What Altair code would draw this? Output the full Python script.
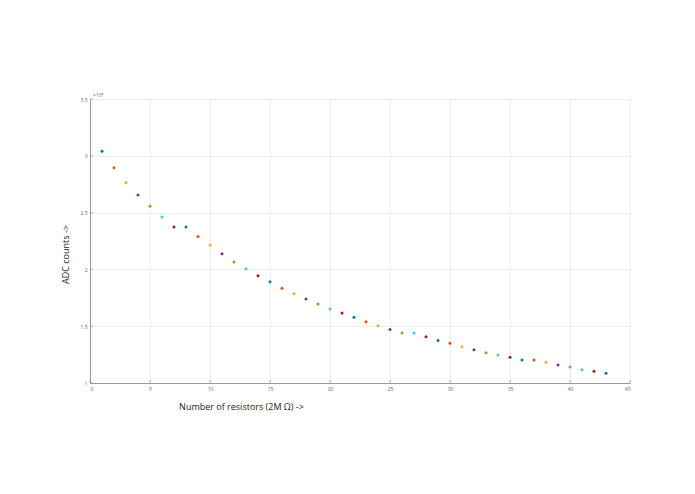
import altair as alt
import pandas as pd

n_resistors = list(range(1, 44))
adc_counts = [
    30390, 28950, 27660, 26550, 25550, 24610, 23730, 23730, 22900, 22150,
    21380, 20650, 20060, 19440, 18920, 18330, 17860, 17390, 16950, 16510,
    16160, 15780, 15400, 15040, 14720, 14400, 14400, 14080, 13750, 13490,
    13200, 12930, 12670, 12470, 12260, 12030, 12030, 11820, 11580, 11410,
    11170, 11030, 10850,
]
matlab_colors = ["#0072BD", "#D95319", "#EDB120", "#7E2F8E", "#77AC30", "#4DBEEE", "#A2142F"]

df = pd.DataFrame({"n": n_resistors, "adc": adc_counts})
df["series"] = [str(i % 7) for i in range(len(df))]

x_ticks = [0, 5, 10, 15, 20, 25, 30, 35, 40, 45]
y_ticks = [10000, 15000, 20000, 25000, 30000, 35000]

W, H = 540, 284

xs = alt.Scale(domain=[0, 45], nice=False)
ys = alt.Scale(domain=[10000, 35000], nice=False, zero=False)

points = alt.Chart(df).mark_circle(size=9, opacity=1).encode(
    x=alt.X("n:Q", scale=xs, axis=alt.Axis(
        values=x_ticks, title="Number of resistors (2M Ω) ->",
        grid=True, gridColor="#ececec", domainColor="#9a9a9a", tickSize=0,
        labelFontSize=5, labelColor="#666", labelPadding=3,
        titleFont="Open Sans", titleFontSize=9, titleFontWeight="normal", titleColor="#222",
        titleX=151, titleY=23, titleBaseline="middle", titleAlign="center")),
    y=alt.Y("adc:Q", scale=ys, axis=alt.Axis(
        values=y_ticks, title="ADC counts ->", labelExpr="datum.value / 10000",
        grid=True, gridColor="#ececec", domainColor="#9a9a9a", tickSize=0,
        labelFontSize=5, labelColor="#666", labelPadding=3,
        titleFont="Open Sans", titleFontSize=9, titleFontWeight="normal", titleColor="#222",
        titleX=-25, titleY=155, titleBaseline="middle", titleAlign="center")),
    color=alt.Color("series:N", scale=alt.Scale(domain=[str(i) for i in range(7)], range=matlab_colors), legend=None),
)

xt = alt.Chart(pd.DataFrame({"v": x_ticks})).mark_rule(color="#9a9a9a", strokeWidth=0.8).encode(
    x=alt.X("v:Q", scale=xs), y=alt.value(H), y2=alt.value(H - 3))
yt = alt.Chart(pd.DataFrame({"v": y_ticks})).mark_rule(color="#9a9a9a", strokeWidth=0.8).encode(
    y=alt.Y("v:Q", scale=ys), x=alt.value(0), x2=alt.value(3))

expo = alt.Chart(pd.DataFrame({"t": ["×10⁴"]})).mark_text(
    align="left", baseline="bottom", fontSize=5, color="#666").encode(
    x=alt.value(3), y=alt.value(-1), text="t:N")

chart = alt.layer(xt, yt, points, expo).properties(
    width=W, height=H,
    autosize=alt.AutoSizeParams(type="none"),
    padding={"left": 82, "top": 91, "right": 57, "bottom": 103},
).configure_view(stroke=None).configure(font="Open Sans")

chart.save("out.html", embed_options={"renderer": "svg", "actions": False})
